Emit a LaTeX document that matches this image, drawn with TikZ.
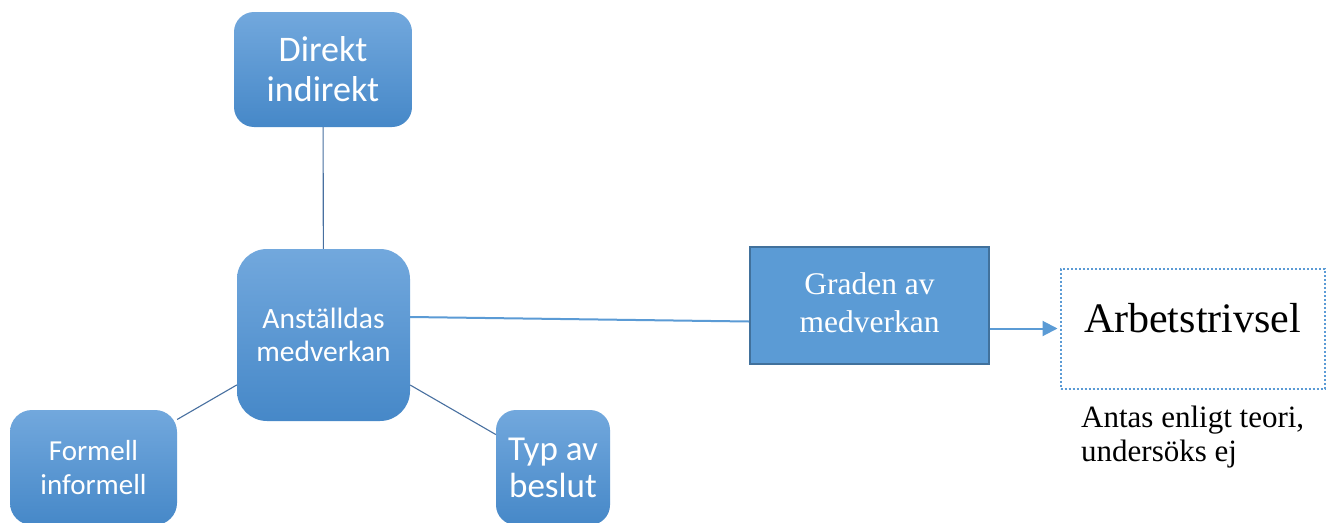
\documentclass[tikz,border=0pt]{standalone}
\usepackage{fontspec}
\setmainfont{Liberation Serif}
\newfontfamily\calfont{Carlito}
\usetikzlibrary{arrows.meta}
\definecolor{boxtop}{RGB}{114,168,221}
\definecolor{boxbot}{RGB}{70,136,200}
\definecolor{accent}{RGB}{91,155,213}
\definecolor{darkacc}{RGB}{65,113,156}
\definecolor{spoke}{RGB}{72,112,160}
\tikzset{
  gbox/.style={top color=boxtop, bottom color=boxbot, text=white, align=center, inner sep=0pt},
  spokeline/.style={draw=spoke, line width=1.1pt},
  mainline/.style={draw=accent, line width=2pt},
}
\begin{document}
\begin{tikzpicture}[x=1pt,y=-1pt]
\clip (0,0) rectangle (1332,522);
\useasboundingbox (0,0) rectangle (1332,522);
\fill[white] (0,0) rectangle (1332,522);

\node[gbox, minimum width=178pt, minimum height=115pt, rounded corners=20pt,
  font=\calfont\fontsize{36}{40}\selectfont] (dir) at (323,69.5) {Direkt\\indirekt};
\node[gbox, minimum width=173pt, minimum height=172pt, rounded corners=30pt,
  font=\calfont\fontsize{29.5}{33}\selectfont] (anst) at (323.5,335) {Anställdas\\medverkan};
\node[gbox, minimum width=167pt, minimum height=115pt, rounded corners=22pt,
  font=\calfont\fontsize{29}{34}\selectfont] (form) at (93.5,467.5) {Formell\\informell};
\node[gbox, minimum width=114pt, minimum height=115pt, rounded corners=20pt,
  font=\calfont\fontsize{35}{37}\selectfont] (typ) at (553,467.5) {Typ av\\beslut};

\node[fill=accent, draw=darkacc, line width=2pt, minimum width=239pt, minimum height=117pt,
  inner sep=0pt, text=white] (grad) at (869.5,305.5)
  {\raisebox{9pt}{\fontsize{31.5}{38}\selectfont\begin{tabular}{@{}c@{}}Graden av\\medverkan\end{tabular}}};

\node[draw=accent, line width=2pt, dash pattern=on 2pt off 2pt, minimum width=264pt, minimum height=120pt,
  inner sep=0pt, text depth=22pt, font=\fontsize{42}{48}\selectfont] (arb) at (1192.5,328.5) {Arbetstrivsel};

\node[anchor=north west, inner sep=0pt, align=left, font=\fontsize{31}{34}\selectfont]
  (note) at (1081,406) {Antas enligt teori,\\undersöks ej};

\draw[spokeline] (dir) -- (anst);
\draw[spokeline] (anst) -- (form);
\draw[spokeline] (anst) -- (typ);
\draw[mainline] ([yshift=18pt]anst.east) -- ([yshift=-16pt]grad.west);
\draw[mainline, -{Triangle[length=15pt,width=15pt]}] (grad.east |- arb.west) -- ([xshift=-2pt]arb.west);
\end{tikzpicture}
\end{document}
